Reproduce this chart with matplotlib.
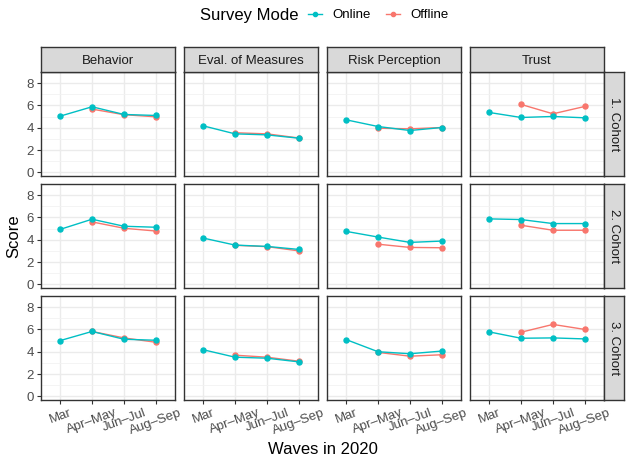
import numpy as np
from matplotlib import pyplot as plt
from matplotlib.lines import Line2D

plt.rcParams['font.family'] = ['Liberation Sans', 'DejaVu Sans']

waves = ['Mar', 'Apr\u2013May', 'Jun\u2013Jul', 'Aug\u2013Sep']
topics = ['Behavior', 'Eval. of Measures', 'Risk Perception', 'Trust']
cohorts = ['1. Cohort', '2. Cohort', '3. Cohort']
modes = ['Online', 'Offline']

# online values per cohort, per topic, per wave
online_c1 = [[5.04, 5.88, 5.19, 5.10],
             [4.17, 3.45, 3.36, 3.06],
             [4.71, 4.11, 3.75, 4.02],
             [5.37, 4.92, 5.01, 4.89]]
online_c2 = [[4.93, 5.84, 5.21, 5.12],
             [4.15, 3.52, 3.40, 3.13],
             [4.75, 4.24, 3.76, 3.88],
             [5.87, 5.81, 5.45, 5.45]]
online_c3 = [[5.00, 5.82, 5.12, 5.03],
             [4.18, 3.51, 3.42, 3.09],
             [5.09, 4.00, 3.82, 4.06],
             [5.78, 5.21, 5.24, 5.15]]

# offline starts at Apr-May (no March wave)
offline_c1 = [[5.67, 5.17, 4.98],
              [3.55, 3.45, 3.08],
              [3.96, 3.90, 4.02],
              [6.09, 5.25, 5.91]]
offline_c2 = [[5.60, 5.03, 4.78],
              [3.50, 3.38, 3.00],
              [3.60, 3.31, 3.28],
              [5.30, 4.85, 4.85]]
offline_c3 = [[5.82, 5.24, 4.85],
              [3.69, 3.51, 3.15],
              [3.94, 3.60, 3.73],
              [5.75, 6.45, 6.00]]

online = [online_c1, online_c2, online_c3]
offline = [offline_c1, offline_c2, offline_c3]

col_on = '#00BFC4'
col_off = '#F8766D'

W, H = 628, 458
fig = plt.figure(figsize=(W / 100, H / 100), dpi=100)

def px(x, y, w, h):
    return [x / W, 1 - (y + h) / H, w / W, h / H]

lefts = [41, 184, 327, 470]
tops = [72, 184, 296]
pw, ph = 134, 104
strip_h = 25
xpos = np.arange(1, 5)

def strip(rect, label, rot=0):
    sax = fig.add_axes(rect)
    sax.set_xticks([])
    sax.set_yticks([])
    sax.set_facecolor('#D9D9D9')
    for s in sax.spines.values():
        s.set_color('#333333')
        s.set_linewidth(1.0)
    va = 'center_baseline' if rot == 0 else 'center'
    sax.text(0.5, 0.5, label, ha='center', va=va, rotation=rot,
             fontsize=9.5, color='#1A1A1A', transform=sax.transAxes)

for r in range(3):
    for c in range(4):
        ax = fig.add_axes(px(lefts[c], tops[r], pw, ph))
        ax.set_xlim(0.4, 4.6)
        ax.set_ylim(-0.33, 9.0)
        ax.set_yticks([0, 2, 4, 6, 8])
        ax.set_yticks([1, 3, 5, 7, 9], minor=True)
        ax.set_xticks(xpos)
        ax.grid(True, which='major', color='#EBEBEB', lw=1.0)
        ax.grid(True, which='minor', axis='y', color='#F2F2F2', lw=0.6)
        ax.set_axisbelow(True)
        for s in ax.spines.values():
            s.set_color('#333333')
            s.set_linewidth(1.0)
        ax.tick_params(which='minor', length=0)
        ax.tick_params(which='major', length=3, color='#333333', width=0.8,
                       labelsize=9.5, labelcolor='#4D4D4D', pad=2)
        if c == 0:
            ax.set_yticklabels(['0', '2', '4', '6', '8'])
        else:
            ax.set_yticklabels([])
            ax.tick_params(axis='y', length=0)
        if r == 2:
            ax.set_xticklabels(waves, rotation=20, ha='center')
        else:
            ax.set_xticklabels([])
            ax.tick_params(axis='x', length=0)

        ax.plot(xpos[1:], offline[r][c], color=col_off, lw=1.0,
                marker='o', ms=3.6, zorder=3)
        ax.plot(xpos, online[r][c], color=col_on, lw=1.0,
                marker='o', ms=3.6, zorder=4)

        if r == 0:
            strip(px(lefts[c], tops[r] - strip_h, pw, strip_h), topics[c])
        if c == 3:
            strip(px(lefts[c] + pw, tops[r], 20, ph), cohorts[r], rot=-90)

fig.text(14 / W, 1 - 236 / H, 'Score', rotation=90, ha='center',
         va='center', fontsize=12)
fig.text(323 / W, 1 - 449 / H, 'Waves in 2020', ha='center',
         va='center', fontsize=12)

# legend at the top, placed by hand
ly = 1 - 14 / H
fig.text(200 / W, ly, 'Survey Mode', ha='left', va='center_baseline',
         fontsize=12)
key_x = [308, 386]
for k, (name, col) in enumerate(zip(modes, [col_on, col_off])):
    x0 = key_x[k]
    fig.add_artist(Line2D([x0 / W, (x0 + 14) / W], [ly, ly], color=col,
                          lw=1.0, transform=fig.transFigure))
    fig.add_artist(Line2D([(x0 + 7) / W], [ly], color=col, marker='o',
                          ms=3, transform=fig.transFigure))
    fig.text((x0 + 24) / W, ly, name, ha='left',
             va='center_baseline', fontsize=9.5)

plt.savefig('out.png', dpi=100)
